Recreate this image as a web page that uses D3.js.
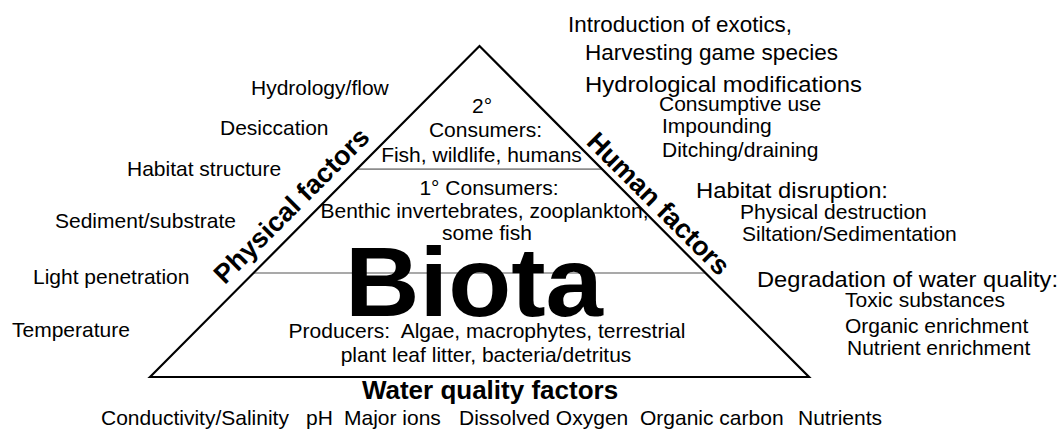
<!DOCTYPE html>
<html><head><meta charset="utf-8">
<script src="https://cdn.jsdelivr.net/npm/d3@7"></script>
<style>
html,body{margin:0;padding:0;background:#fff;}
svg text{font-family:"Liberation Sans",Arial,sans-serif;fill:#000;white-space:pre;}
</style></head><body>
<svg id="c" width="1064" height="431"></svg>
<script>
// ---- data ----
const pyramidVertices = [[0,0],[0.5,1],[1,0]];          // base-left, apex, base-right (relative)
const levelBoundaries = [0.314, 0.628];                   // trophic level dividers (relative height)
const trophicTexts = ["2°","Consumers:","Fish, wildlife, humans","1° Consumers:",
  "Benthic invertebrates, zooplankton,","some fish",
  "Producers:  Algae, macrophytes, terrestrial","plant leaf litter, bacteria/detritus"];
const physicalFactors = ["Hydrology/flow","Desiccation","Habitat structure","Sediment/substrate","Light penetration","Temperature"];
const humanFactors = ["Introduction of exotics,","Harvesting game species","Hydrological modifications",
  "Consumptive use","Impounding","Ditching/draining","Habitat disruption:","Physical destruction",
  "Siltation/Sedimentation","Degradation of water quality:","Toxic substances","Organic enrichment","Nutrient enrichment"];
const waterQualityFactors = ["Conductivity/Salinity","pH","Major ions","Dissolved Oxygen","Organic carbon","Nutrients"];
const sideTitles = ["Physical factors","Human factors","Water quality factors"];
const centerTitle = "Biota";

// ---- layout ----
const trophicPos = [[482,113],[485.5,137],[481.5,162],[489,195],[484.5,218],[487,240],[487,338],[486,362]];
const physicalPos = [[251,95],[220,135],[127,176],[55,228],[33,284],[12,337]];
const humanPos = [[568,32,22,224],[585,60,22,253],[585,92,22,277],[659,111,21,0],[662,133,21,0],[662,157,21,0],
  [696,198,22,192],[740,219,21,0],[742,241,21,0],[757,287,22,301],[845,307,21,0],[845,333,21,0],[847,355,21,0]];
const waterPos = [101,306,344,459,640,798];

const svg = d3.select("#c");
const x = d3.scaleLinear().domain([0,1]).range([150,809]);
const y = d3.scaleLinear().domain([0,1]).range([377,46]);

// divider lines
svg.selectAll("line.lvl").data(levelBoundaries).enter().append("line")
  .attr("class","lvl")
  .attr("x1",d=>x(d/2)).attr("x2",d=>x(1-d/2))
  .attr("y1",d=>y(d)).attr("y2",d=>y(d))
  .attr("stroke","#8c8c8c").attr("stroke-width",1.6);

// triangle
svg.append("path")
  .attr("d", d3.line().x(d=>x(d[0])).y(d=>y(d[1]))(pyramidVertices) + "Z")
  .attr("fill","none").attr("stroke","#000").attr("stroke-width",2.2).attr("stroke-linejoin","miter");

// Biota
svg.append("text").text(centerTitle)
  .attr("x",474).attr("y",316).attr("text-anchor","middle")
  .attr("font-size",98).attr("font-weight","bold")
  .attr("textLength",258).attr("lengthAdjust","spacingAndGlyphs");

// trophic texts
svg.selectAll("text.tro").data(trophicTexts).enter().append("text")
  .attr("class","tro").text(d=>d)
  .attr("x",(d,i)=>trophicPos[i][0]).attr("y",(d,i)=>trophicPos[i][1])
  .attr("text-anchor","middle").attr("font-size",21);

// physical factors
svg.selectAll("text.phy").data(physicalFactors).enter().append("text")
  .attr("class","phy").text(d=>d)
  .attr("x",(d,i)=>physicalPos[i][0]).attr("y",(d,i)=>physicalPos[i][1])
  .attr("font-size",21);

// human factors
svg.selectAll("text.hum").data(humanFactors).enter().append("text")
  .attr("class","hum").text(d=>d)
  .attr("x",(d,i)=>humanPos[i][0]).attr("y",(d,i)=>humanPos[i][1])
  .attr("font-size",(d,i)=>humanPos[i][2])
  .each(function(d,i){ if(humanPos[i][3]) d3.select(this).attr("textLength",humanPos[i][3]).attr("lengthAdjust","spacingAndGlyphs"); });

// water quality factors
svg.selectAll("text.wq").data(waterQualityFactors).enter().append("text")
  .attr("class","wq").text(d=>d)
  .attr("x",(d,i)=>waterPos[i]).attr("y",425)
  .attr("font-size",21);

// side titles
svg.append("text").text(sideTitles[0])
  .attr("transform","translate(298,212) rotate(-45)")
  .attr("text-anchor","middle").attr("font-size",27).attr("font-weight","bold");
svg.append("text").text(sideTitles[1])
  .attr("transform","translate(652,210) rotate(45)")
  .attr("text-anchor","middle").attr("font-size",27).attr("font-weight","bold");
svg.append("text").text(sideTitles[2])
  .attr("x",490).attr("y",399)
  .attr("text-anchor","middle").attr("font-size",26).attr("font-weight","bold");
</script></body></html>
